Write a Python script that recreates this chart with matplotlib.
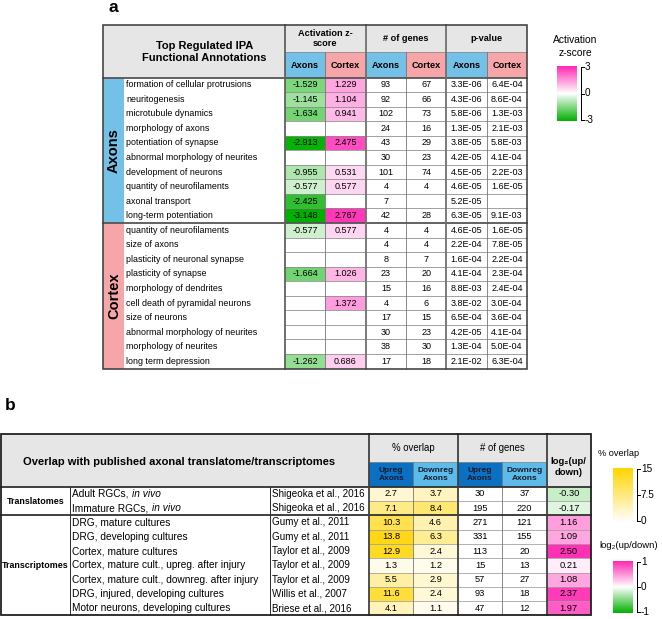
import numpy as np
import matplotlib
matplotlib.use("Agg")
import matplotlib.pyplot as plt
from matplotlib.patches import Rectangle
from matplotlib.colors import LinearSegmentedColormap, TwoSlopeNorm, Normalize
from matplotlib import font_manager

plt.rcParams['font.family'] = ['Liberation Sans', 'DejaVu Sans']
_names = {f.name for f in font_manager.fontManager.ttflist}
NARROW = 'Liberation Sans Narrow' if 'Liberation Sans Narrow' in _names else 'Liberation Sans'

# ---------------- data: panel a ----------------
a_groups = ["Axons", "Cortex"]
a_header_groups = ["Activation z-\nscore", "# of genes", "p-value"]
a_header_sub = ["Axons", "Cortex"]

axons_terms = ["formation of cellular protrusions", "neuritogenesis", "microtubule dynamics",
               "morphology of axons", "potentiation of synapse", "abnormal morphology of neurites",
               "development of neurons", "quantity of neurofilaments", "axonal transport",
               "long-term potentiation"]
axons_z_axons = [-1.529, -1.145, -1.634, None, -2.913, None, -0.955, -0.577, -2.425, -3.148]
axons_z_cortex = [1.229, 1.104, 0.941, None, 2.475, None, 0.531, 0.577, None, 2.767]
axons_n_axons = [93, 92, 102, 24, 43, 30, 101, 4, 7, 42]
axons_n_cortex = [67, 66, 73, 16, 29, 23, 74, 4, None, 28]
axons_p_axons = ["3.3E-06", "4.3E-06", "5.8E-06", "1.3E-05", "3.8E-05", "4.2E-05", "4.5E-05",
                 "4.6E-05", "5.2E-05", "6.3E-05"]
axons_p_cortex = ["6.4E-04", "8.6E-04", "1.3E-03", "2.1E-03", "5.8E-03", "4.1E-04", "2.2E-03",
                  "1.6E-05", "", "9.1E-03"]

cortex_terms = ["quantity of neurofilaments", "size of axons", "plasticity of neuronal synapse",
                "plasticity of synapse", "morphology of dendrites", "cell death of pyramidal neurons",
                "size of neurons", "abnormal morphology of neurites", "morphology of neurites",
                "long term depression"]
cortex_z_axons = [-0.577, None, None, -1.664, None, None, None, None, None, -1.262]
cortex_z_cortex = [0.577, None, None, 1.026, None, 1.372, None, None, None, 0.686]
cortex_n_axons = [4, 4, 8, 23, 15, 4, 17, 30, 38, 17]
cortex_n_cortex = [4, 4, 7, 20, 16, 6, 15, 23, 30, 18]
cortex_p_axons = ["4.6E-05", "2.2E-04", "1.6E-04", "4.1E-04", "8.8E-03", "3.8E-02", "6.5E-04",
                  "4.2E-05", "1.3E-04", "2.1E-02"]
cortex_p_cortex = ["1.6E-05", "7.8E-05", "2.2E-04", "2.3E-04", "2.4E-04", "3.0E-04", "3.6E-04",
                   "4.1E-04", "5.0E-04", "6.3E-04"]

z_ticks = [3, 0, -3]

# ---------------- data: panel b ----------------
b_groups = ["Translatomes", "Transcriptomes"]
b_group_sizes = [2, 7]
b_desc = ["Adult RGCs, |in vivo", "Immature RGCs, |in vivo", "DRG, mature cultures",
          "DRG, developing cultures", "Cortex, mature cultures",
          "Cortex, mature cult., upreg. after injury", "Cortex, mature cult., downreg. after injury",
          "DRG, injured, developing cultures", "Motor neurons, developing cultures"]
b_refs = ["Shigeoka et al., 2016", "Shigeoka et al., 2016", "Gumy et al., 2011", "Gumy et al., 2011",
          "Taylor et al., 2009", "Taylor et al., 2009", "Taylor et al., 2009", "Willis et al., 2007",
          "Briese et al., 2016"]
b_pct_up = [2.7, 7.1, 10.3, 13.8, 12.9, 1.3, 5.5, 11.6, 4.1]
b_pct_down = [3.7, 8.4, 4.6, 6.3, 2.4, 1.2, 2.9, 2.4, 1.1]
b_genes_up = [30, 195, 271, 331, 113, 15, 57, 93, 47]
b_genes_down = [37, 220, 121, 155, 20, 13, 27, 18, 12]
b_log2 = [-0.30, -0.17, 1.16, 1.09, 2.50, 0.21, 1.08, 2.37, 1.97]
b_title = "Overlap with published axonal translatome/transcriptomes"
b_header_groups = ["% overlap", "# of genes"]
b_header_sub = ["Upreg\nAxons", "Downreg\nAxons"]
pct_ticks = [15, 7.5, 0]
log2_ticks = [1, 0, -1]

# ---------------- styling ----------------
GRAY = '#e6e6e6'
BLUE = '#74c1e8'
PINK = '#f6a6a8'
DBLUE = '#0b70c2'
LBLUE = '#5cbbe9'
z_cmap = LinearSegmentedColormap.from_list('gm', ['#00b000', '#ffffff', '#ff28b4'])
pct_cmap = LinearSegmentedColormap.from_list('yw', ['#ffffff', '#ffd400'])
z_norm = Normalize(-3, 3)
pct_norm = Normalize(0, 15)
log2_cell_norm = TwoSlopeNorm(vmin=-1.4, vcenter=0, vmax=2.6)

W, H = 662, 619
fig = plt.figure(figsize=(W / 100, H / 100), dpi=100)
ax = fig.add_axes([0, 0, 1, 1])
ax.set_xlim(0, W)
ax.set_ylim(H, 0)
ax.set_autoscale_on(False)
ax.set_axis_off()
LW = 0.72


def rect(x0, y0, x1, y1, fc, z=1):
    ax.add_patch(Rectangle((x0, y0), x1 - x0, y1 - y0, facecolor=fc, edgecolor='none', zorder=z))


def hline(y, x0, x1, w=1.0, c='#8a8a8a', z=3):
    ax.plot([x0, x1], [y, y], color=c, lw=w * LW, solid_capstyle='projecting', zorder=z)


def vline(x, y0, y1, w=1.0, c='#8a8a8a', z=3):
    ax.plot([x, x], [y0, y1], color=c, lw=w * LW, solid_capstyle='projecting', zorder=z)


def txt(x, y, s, size, ha='center', **kw):
    return ax.text(x, y, s, fontsize=size, ha=ha, va='center', zorder=5, **kw)


def colorbar(x0, x1, y0, y1, cmap, vmin, vmax, ticks, bx):
    grad = np.linspace(vmax, vmin, 256)[:, None]
    ax.imshow(grad, cmap=cmap, vmin=vmin, vmax=vmax, extent=(x0, x1, y1, y0),
              aspect='auto', interpolation='bilinear', zorder=2)
    vline(bx, y0 + 1, y1 - 1, 1.0, '#000000')
    for k, t in enumerate(ticks):
        yy = y0 + 1 + (y1 - y0 - 2) * k / (len(ticks) - 1)
        hline(yy, bx, bx + 3, 1.0, '#000000')
        lab = ('%g' % t).replace('\u2212', '-')
        txt(bx + 4, yy, lab, 7.2, ha='left')


# ================= panel a =================
txt(113, 7, 'a', 12.5, fontweight='bold')
A_L, A_BAND, A_LBL, A_R = 103, 124, 285, 527
A_TOP, A_H1, A_H2, A_RH = 25, 52, 77.5, 14.55
a_cols = np.linspace(A_LBL, A_R, 7)

terms = axons_terms + cortex_terms
z_ax = axons_z_axons + cortex_z_axons
z_cx = axons_z_cortex + cortex_z_cortex
n_ax = axons_n_axons + cortex_n_axons
n_cx = axons_n_cortex + cortex_n_cortex
p_ax = axons_p_axons + cortex_p_axons
p_cx = axons_p_cortex + cortex_p_cortex
group_sizes_a = [len(axons_terms), len(cortex_terms)]
nA = len(terms)
A_BOT = A_H2 + nA * A_RH

rect(A_L, A_TOP, A_R, A_H2, GRAY)
txt((A_BAND + A_LBL) / 2, (A_TOP + A_H2) / 2 + 0.5, "Top Regulated IPA\nFunctional Annotations", 8.0,
    fontweight='bold', linespacing=1.3)
for g, lab in enumerate(a_header_groups):
    txt((a_cols[2 * g] + a_cols[2 * g + 2]) / 2, (A_TOP + A_H1) / 2, lab, 6.6, fontweight='bold',
        linespacing=1.15)
    for s, sub in enumerate(a_header_sub):
        rect(a_cols[2 * g + s], A_H1, a_cols[2 * g + s + 1], A_H2, BLUE if s == 0 else PINK)
        txt((a_cols[2 * g + s] + a_cols[2 * g + s + 1]) / 2, (A_H1 + A_H2) / 2 + 0.5, sub, 6.6,
            fontweight='bold')

start = 0
for gi, (gname, gsize) in enumerate(zip(a_groups, group_sizes_a)):
    y0 = A_H2 + start * A_RH
    y1 = y0 + gsize * A_RH
    rect(A_L, y0, A_BAND, y1, BLUE if gi == 0 else PINK)
    txt((A_L + A_BAND) / 2 + 0.5, (y0 + y1) / 2, gname, 10.5, fontweight='bold', rotation=90)
    start += gsize

for i in range(nA):
    y0 = A_H2 + i * A_RH
    yc = y0 + A_RH / 2
    txt(A_BAND + 2, yc, terms[i], 6.4, ha='left')
    for j, v in enumerate([z_ax[i], z_cx[i]]):
        if v is not None:
            rect(a_cols[j], y0, a_cols[j + 1], y0 + A_RH, z_cmap(z_norm(v)))
            txt((a_cols[j] + a_cols[j + 1]) / 2, yc, '%.3f' % v, 6.5)
    for j, v in enumerate([n_ax[i], n_cx[i]]):
        if v is not None:
            txt((a_cols[2 + j] + a_cols[3 + j]) / 2, yc, str(v), 6.5)
    for j, v in enumerate([p_ax[i], p_cx[i]]):
        if v:
            txt((a_cols[4 + j] + a_cols[5 + j]) / 2, yc, v, 6.5)

# grid lines panel a
for i in range(1, nA):
    if i == group_sizes_a[0]:
        hline(A_H2 + i * A_RH, A_L, A_R, 1.8, '#555555', z=4)
    else:
        hline(A_H2 + i * A_RH, A_LBL, A_R, 0.8, '#8c8c8c')
hline(A_H1, A_LBL, A_R, 0.8, '#8c8c8c')
hline(A_H2, A_L, A_R, 1.8, '#555555', z=4)
vline(a_cols[0], A_TOP, A_BOT, 1.8, '#606060', z=4)
vline(a_cols[2], A_TOP, A_BOT, 1.8, '#707070', z=4)
vline(a_cols[4], A_TOP, A_BOT, 1.8, '#707070', z=4)
for k in (1, 3, 5):
    vline(a_cols[k], A_H1, A_BOT, 0.8, '#707070')
ax.add_patch(Rectangle((A_L, A_TOP), A_R - A_L, A_BOT - A_TOP, facecolor='none',
                       edgecolor='#404040', lw=1.6 * LW, zorder=6))

# legend a
txt(575, 46.5, "Activation\nz-score", 7.4, linespacing=1.3)
colorbar(557, 577, 66, 121, z_cmap, -3, 3, z_ticks, 581)

# ================= panel b =================
txt(10, 405, 'b', 12.5, fontweight='bold')
B_L, B_C1, B_C2, B_C3, B_R = 1, 70, 270, 369, 591
B_TOP, B_H1, B_H2, B_RH = 434, 462, 486.7, 14.3
b_cols = np.linspace(B_C3, B_R, 6)
nB = len(b_desc)
B_BOT = B_H2 + nB * B_RH

rect(B_L, B_TOP, B_R, B_H2, GRAY)
txt((B_L + B_C3) / 2 - 6, (B_TOP + B_H2) / 2 + 2, b_title, 8.0, fontweight='bold')
for g, lab in enumerate(b_header_groups):
    txt((b_cols[2 * g] + b_cols[2 * g + 2]) / 2, (B_TOP + B_H1) / 2, lab, 6.9)
    for s, sub in enumerate(b_header_sub):
        rect(b_cols[2 * g + s], B_H1, b_cols[2 * g + s + 1], B_H2, DBLUE if s == 0 else LBLUE)
        txt((b_cols[2 * g + s] + b_cols[2 * g + s + 1]) / 2, (B_H1 + B_H2) / 2 + 0.5, sub, 6.0,
            fontweight='bold', linespacing=1.2, color='#1a1a2a')
txt((b_cols[4] + b_cols[5]) / 2, (B_TOP + B_H2) / 2 + 7, "log\u2082(up/\ndown)", 6.8,
    fontweight='bold', linespacing=1.3)

renderer = fig.canvas.get_renderer()
start = 0
for gi, (gname, gsize) in enumerate(zip(b_groups, b_group_sizes)):
    y0 = B_H2 + start * B_RH
    y1 = y0 + gsize * B_RH
    txt((B_L + B_C1) / 2, (y0 + y1) / 2, gname, 6.4, fontweight='bold')
    start += gsize

for i in range(nB):
    y0 = B_H2 + i * B_RH
    yc = y0 + B_RH / 2
    parts = b_desc[i].split('|')
    t = txt(B_C1 + 2.5, yc, parts[0], 7.3, ha='left')
    if len(parts) > 1:
        bb = t.get_window_extent(renderer=renderer)
        txt(bb.x1 + 0.5, yc, parts[1], 7.3, ha='left', fontstyle='italic')
    txt(B_C2 + 2, yc, b_refs[i], 7.1, ha='left')
    for j, v in enumerate([b_pct_up[i], b_pct_down[i]]):
        rect(b_cols[j], y0, b_cols[j + 1], y0 + B_RH, pct_cmap(pct_norm(v)))
        txt((b_cols[j] + b_cols[j + 1]) / 2, yc, '%.1f' % v, 6.7, family=NARROW)
    for j, v in enumerate([b_genes_up[i], b_genes_down[i]]):
        txt((b_cols[2 + j] + b_cols[3 + j]) / 2, yc, str(v), 6.7, family=NARROW)
    rect(b_cols[4], y0, b_cols[5], y0 + B_RH, z_cmap(log2_cell_norm(b_log2[i])))
    txt((b_cols[4] + b_cols[5]) / 2, yc, '%.2f' % b_log2[i], 6.7, family=NARROW)

for i in range(1, nB):
    if i == b_group_sizes[0]:
        hline(B_H2 + i * B_RH, B_L, B_R, 1.8, '#303030', z=4)
    else:
        hline(B_H2 + i * B_RH, B_C3, B_R, 0.8, '#a0a0a0')
hline(B_H1, B_C3, b_cols[4], 0.8, '#8c8c8c')
hline(B_H2, B_L, B_R, 1.8, '#303030', z=4)
vline(B_C1, B_H2, B_BOT, 1.0, '#303030')
vline(B_C2, B_H2, B_BOT, 1.0, '#303030')
for k in (0, 2, 4):
    vline(b_cols[k], B_TOP, B_BOT, 1.8, '#404040', z=4)
for k in (1, 3):
    vline(b_cols[k], B_H1, B_BOT, 0.8, '#707070')
ax.add_patch(Rectangle((B_L, B_TOP), B_R - B_L, B_BOT - B_TOP, facecolor='none',
                       edgecolor='#202020', lw=1.8 * LW, zorder=6))

# legends b
txt(619, 454, "% overlap", 6.6)
colorbar(613, 633, 468, 522, pct_cmap, 0, 15, pct_ticks, 637)
txt(599, 546, "log\u2082(up/down)", 6.8, ha='left')
colorbar(613, 633, 561, 613, z_cmap, -1, 1, log2_ticks, 637)

ax.set_xlim(0, W)
ax.set_ylim(H, 0)
fig.savefig('out.png', dpi=100)
